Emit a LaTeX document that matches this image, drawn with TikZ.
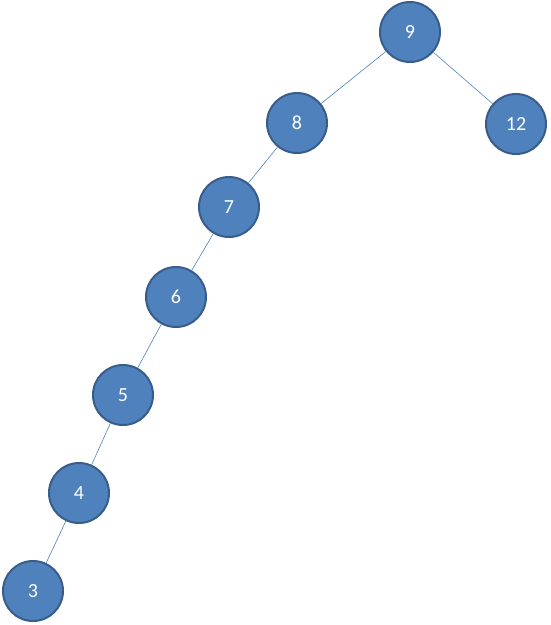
\documentclass[tikz,border=0pt]{standalone}
\usepackage{fontspec}
\setmainfont{Carlito}
\usepackage{tikz}
\usetikzlibrary{arrows}

\definecolor{nodefill}{HTML}{4F81BD}
\definecolor{nodeborder}{HTML}{385D8A}

\begin{document}
\begin{tikzpicture}[-,auto,x=1pt,y=-1pt,
				main node/.style={circle,fill=nodefill,draw=nodeborder,line width=2pt,
					text=white,font=\fontsize{20}{20}\selectfont,minimum size=60pt,inner sep=0pt}]
				\useasboundingbox (0,0) rectangle (550,625);
				
				\node[main node] (N9) at (410,32) {9};
				\node[main node] (N8) at (297,123) {8};
				\node[main node] (N12) at (516,124) {12};
				\node[main node] (N7) at (229,207) {7};
				\node[main node] (N6) at (176,297) {6};
				\node[main node] (N5) at (123,395) {5};
				\node[main node] (N4) at (79,493) {4};
				\node[main node] (N3) at (33,591) {3};
				
				\path[-,draw=nodefill,line width=0.6pt]
				(N9) edge (N8)
				(N9) edge (N12)
				(N8) edge (N7)
				(N7) edge (N6)
				(N6) edge (N5)
				(N5) edge (N4)
				(N4) edge (N3);
			\end{tikzpicture}
\end{document}
